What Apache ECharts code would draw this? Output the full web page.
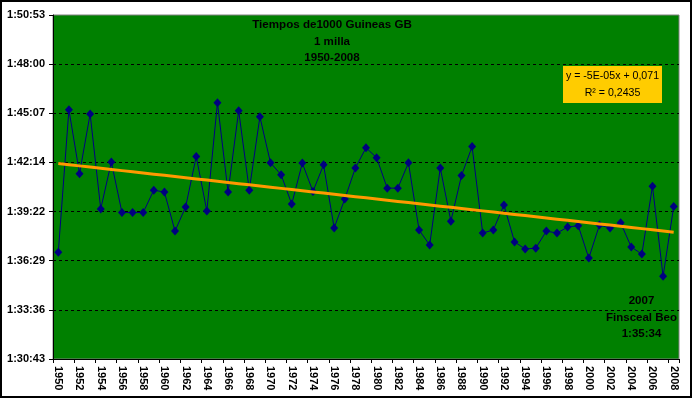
<!DOCTYPE html>
<html>
<head>
<meta charset="utf-8">
<script src="https://cdn.jsdelivr.net/npm/echarts@6/dist/echarts.min.js"></script>
<style>
html,body{margin:0;padding:0;background:#fff;}
#c{width:693px;height:398px;}
</style>
</head>
<body>
<div id="c"></div>
<script>
// Years (categories)
var years = [];
for (var yr = 1950; yr <= 2008; yr++) years.push(String(yr));

// Winning times (h:mm:ss)
var times = [
  "1:36:59","1:45:20","1:41:35","1:45:05","1:39:31","1:42:16","1:39:18","1:39:18","1:39:18","1:40:37",
  "1:40:30","1:38:13","1:39:38","1:42:35","1:39:24","1:45:44","1:40:30","1:45:16","1:40:37","1:44:55",
  "1:42:13","1:41:31","1:39:48","1:42:12","1:40:32","1:42:06","1:38:24","1:40:06","1:41:55","1:43:06",
  "1:42:31","1:40:44","1:40:44","1:42:13","1:38:17","1:37:24","1:41:55","1:38:48","1:41:28","1:43:10",
  "1:38:06","1:38:17","1:39:45","1:37:35","1:37:10","1:37:13","1:38:13","1:38:06","1:38:27","1:38:32",
  "1:36:38","1:38:34","1:38:24","1:38:42","1:37:17","1:36:52","1:40:51","1:35:34","1:39:39"
];

// Y axis tick labels
var yTickLabels = ["1:30:43","1:33:36","1:36:29","1:39:22","1:42:14","1:45:07","1:48:00","1:50:53"];

var titleLines = ["Tiempos de1000 Guineas GB", "1 milla", "1950-2008"];
var noteLines = ["2007", "Finsceal Beo", "1:35:34"];
var eqLines = ["y = -5E-05x + 0,071", "R\u00B2 = 0,2435"];

function toSec(t){ var p = t.split(":"); return (+p[0])*3600 + (+p[1])*60 + (+p[2]); }
var DAY = 86400;
var yMinSec = 0.063 * DAY;   // 1:30:43
var yStepSec = 0.002 * DAY;  // 2:53 interval
var secs = times.map(toSec);
var vals = secs.map(function(s){ return s - yMinSec; });

// linear trend (least squares on index 1..n)
var n = vals.length, sx=0, sy=0, sxx=0, sxy=0;
for (var i=0;i<n;i++){ var x=i+1; sx+=x; sy+=vals[i]; sxx+=x*x; sxy+=x*vals[i]; }
var slope = (n*sxy - sx*sy)/(n*sxx - sx*sx);
var icpt = (sy - slope*sx)/n;
var trend = vals.map(function(v,i){ return icpt + slope*(i+1); });

var font = "'Liberation Sans', Arial, sans-serif";
var splitColors = [];
for (var k=0;k<yTickLabels.length;k++) splitColors.push(k===0||k===yTickLabels.length-1 ? 'rgba(0,0,0,0)' : '#000');

var chart = echarts.init(document.getElementById('c'), null, {renderer:'canvas'});
function textLines(lines, cx, y0, dy, size){
  return lines.map(function(t,i){
    return {type:'text', x:cx, y:y0+i*dy, z:100,
      style:{text:t, x:0, y:0, textAlign:'center', textVerticalAlign:'middle',
        font:'bold '+size+'px '+font, fill:'#000'}};
  });
}
var graphics = [
  {type:'rect', shape:{x:1,y:1,width:690,height:396}, style:{fill:'none', stroke:'#000', lineWidth:2}, z:100},
  {type:'rect', shape:{x:563,y:66,width:99,height:37}, style:{fill:'#FFCC00'}, z:99}
];
graphics = graphics.concat(textLines(titleLines, 332, 25, 16.5, 11.6));
graphics = graphics.concat(textLines(noteLines, 641.5, 301, 16.5, 11.5));
graphics.push({type:'text', x:612.5, y:76.5, z:100, style:{text:eqLines[0], x:0, y:0, textAlign:'center', textVerticalAlign:'middle', font:'10.6px '+font, fill:'#000'}});
graphics.push({type:'text', x:612.5, y:93, z:100, style:{text:eqLines[1], x:0, y:0, textAlign:'center', textVerticalAlign:'middle', font:'10.6px '+font, fill:'#000'}});

chart.setOption({
  animation:false,
  backgroundColor:'#fff',
  grid:{left:53, right:14, top:15, bottom:39, show:true, backgroundColor:'#008000', borderColor:'#808080', borderWidth:1},
  xAxis:{
    type:'category', data:years, boundaryGap:true,
    axisLine:{lineStyle:{color:'#000', width:1}},
    axisTick:{show:true, interval:1, length:4, lineStyle:{color:'#000'}},
    axisLabel:{interval:1, rotate:-90, margin:7, color:'#000', fontWeight:'bold', fontSize:11, fontFamily:font},
    splitLine:{show:false}
  },
  yAxis:{
    type:'value', min:0, max:7*yStepSec, interval:yStepSec,
    axisLine:{show:true, lineStyle:{color:'#000', width:1}},
    axisTick:{show:true, length:4, lineStyle:{color:'#000'}},
    axisLabel:{margin:8, color:'#000', fontWeight:'bold', fontSize:11, fontFamily:font,
      formatter:function(v){ var idx = Math.round(v/yStepSec); return yTickLabels[idx] || ''; }},
    splitLine:{show:true, lineStyle:{color:splitColors, type:[3,3], width:1}}
  },
  series:[
    {type:'line', data:vals, symbol:'diamond', symbolSize:[8,9], showAllSymbol:true,
      itemStyle:{color:'#000080'}, lineStyle:{color:'#000080', width:1}, z:3},
    {type:'line', data:trend, symbol:'none', lineStyle:{color:'#FF9900', width:3}, z:4}
  ],
  graphic:graphics
});
</script>
</body>
</html>
